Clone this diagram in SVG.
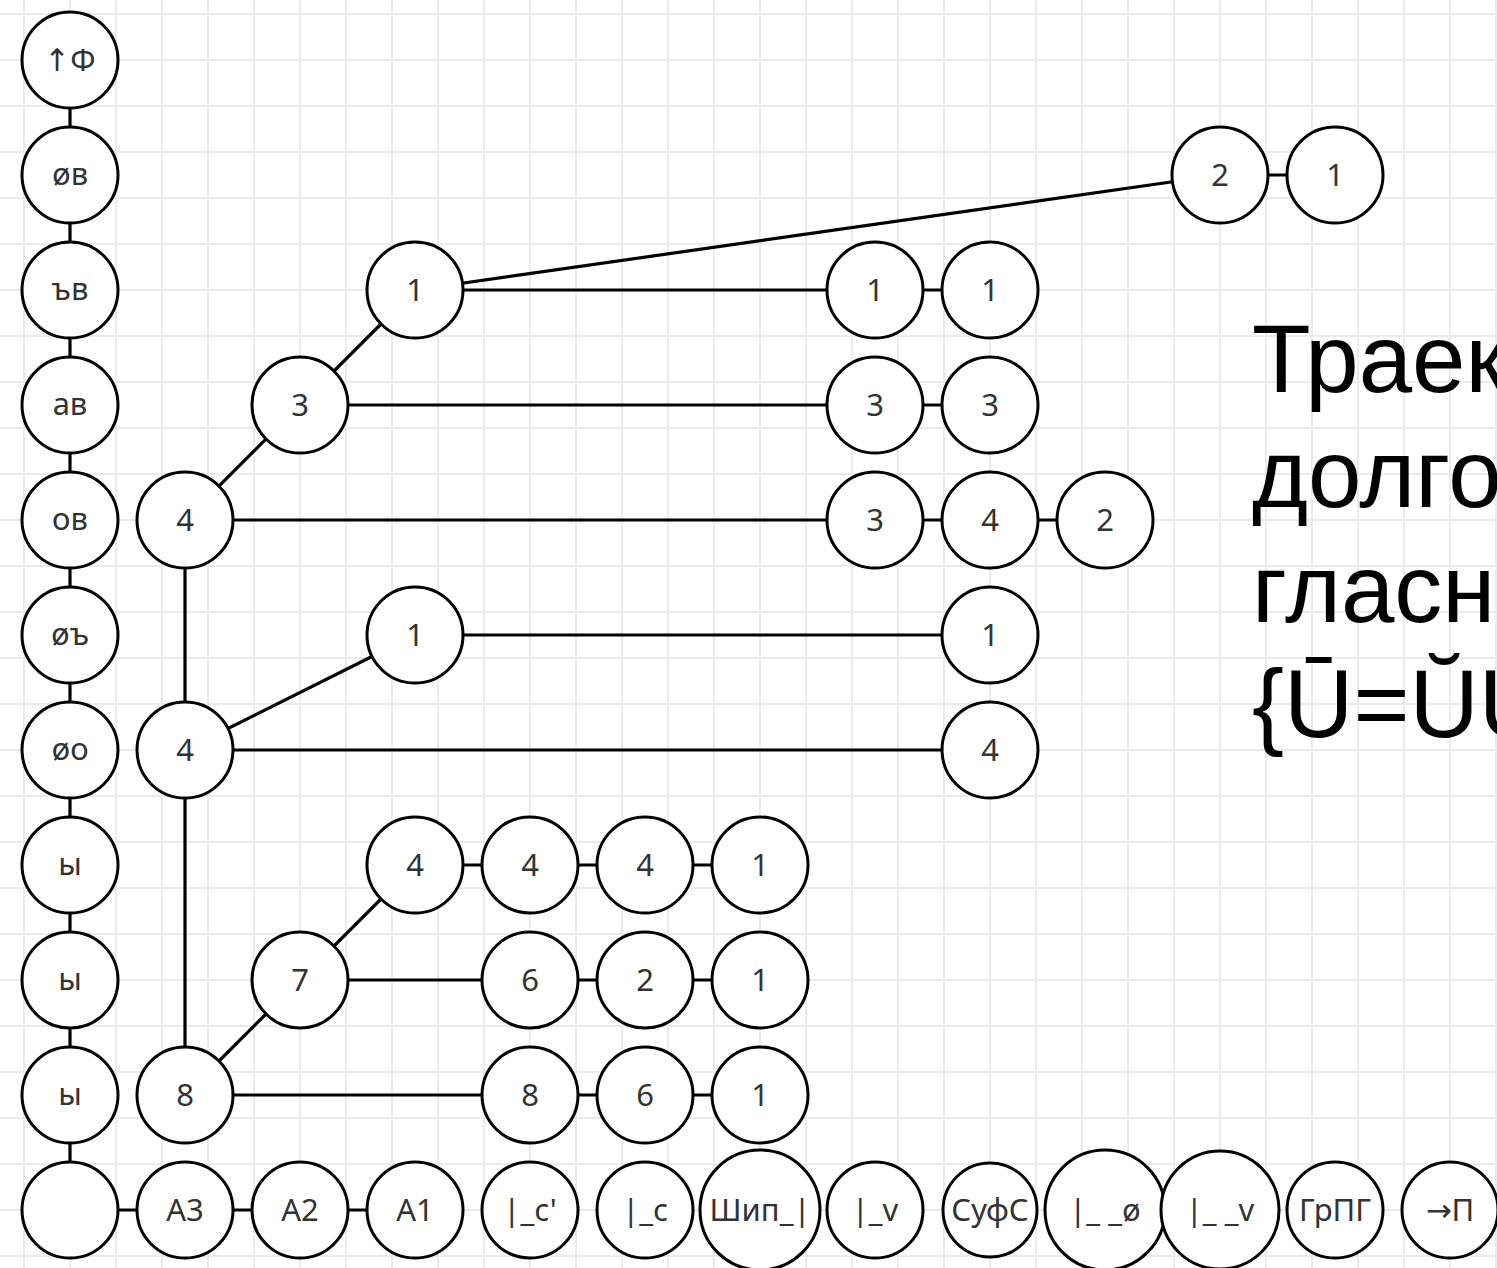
<svg xmlns="http://www.w3.org/2000/svg" width="1497" height="1268" viewBox="0 0 1497 1268">
<style>
.grid{fill:none;stroke:#ebebeb;stroke-width:2}
.n circle{fill:#fff;stroke:#000;stroke-width:3}
.n text{font-family:"Noto Sans","DejaVu Sans",sans-serif;font-size:31px;fill:#333;text-anchor:middle}
#edges line{stroke:#000;stroke-width:3.2}
.big{font-family:"Liberation Sans",Arial,sans-serif;font-size:96px;fill:#000}
</style>
<rect width="1497" height="1268" fill="#fff"/>
<path class="grid" d="M24 0V1268M70 0V1268M116 0V1268M162 0V1268M208 0V1268M254 0V1268M300 0V1268M346 0V1268M392 0V1268M438 0V1268M484 0V1268M530 0V1268M576 0V1268M622 0V1268M668 0V1268M714 0V1268M760 0V1268M806 0V1268M852 0V1268M898 0V1268M944 0V1268M990 0V1268M1036 0V1268M1082 0V1268M1128 0V1268M1174 0V1268M1220 0V1268M1266 0V1268M1312 0V1268M1358 0V1268M1404 0V1268M1450 0V1268M1496 0V1268M0 14H1497M0 60H1497M0 106H1497M0 152H1497M0 198H1497M0 244H1497M0 290H1497M0 336H1497M0 382H1497M0 428H1497M0 474H1497M0 520H1497M0 566H1497M0 612H1497M0 658H1497M0 704H1497M0 750H1497M0 796H1497M0 842H1497M0 888H1497M0 934H1497M0 980H1497M0 1026H1497M0 1072H1497M0 1118H1497M0 1164H1497M0 1210H1497M0 1256H1497"/>
<g id="edges">
<line x1="70" y1="60" x2="70" y2="1210"/>
<line x1="70" y1="1210" x2="415" y2="1210"/>
<line x1="185" y1="520" x2="185" y2="1095"/>
<line x1="185" y1="520" x2="415" y2="290"/>
<line x1="415" y1="290" x2="1220" y2="175"/>
<line x1="1220" y1="175" x2="1335" y2="175"/>
<line x1="415" y1="290" x2="990" y2="290"/>
<line x1="300" y1="405" x2="990" y2="405"/>
<line x1="185" y1="520" x2="1105" y2="520"/>
<line x1="185" y1="750" x2="415" y2="635"/>
<line x1="415" y1="635" x2="990" y2="635"/>
<line x1="185" y1="750" x2="990" y2="750"/>
<line x1="185" y1="1095" x2="415" y2="865"/>
<line x1="415" y1="865" x2="760" y2="865"/>
<line x1="300" y1="980" x2="760" y2="980"/>
<line x1="185" y1="1095" x2="760" y2="1095"/>
</g>
<g id="left">
<g id="l0" class="n"><circle cx="70" cy="60" r="48"/><text x="70" y="71">↑Ф</text></g>
<g id="l1" class="n"><circle cx="70" cy="175" r="48"/><text x="70" y="185">øв</text></g>
<g id="l2" class="n"><circle cx="70" cy="290" r="48"/><text x="70" y="300">ъв</text></g>
<g id="l3" class="n"><circle cx="70" cy="405" r="48"/><text x="70" y="415">ав</text></g>
<g id="l4" class="n"><circle cx="70" cy="520" r="48"/><text x="70" y="530">ов</text></g>
<g id="l5" class="n"><circle cx="70" cy="635" r="48"/><text x="70" y="645">øъ</text></g>
<g id="l6" class="n"><circle cx="70" cy="750" r="48"/><text x="70" y="760">øо</text></g>
<g id="l7" class="n"><circle cx="70" cy="865" r="48"/><text x="70" y="875">ы</text></g>
<g id="l8" class="n"><circle cx="70" cy="980" r="48"/><text x="70" y="990">ы</text></g>
<g id="l9" class="n"><circle cx="70" cy="1095" r="48"/><text x="70" y="1105">ы</text></g>
<g id="l10" class="n"><circle cx="70" cy="1210" r="48"/></g>
</g>
<g id="bottom">
<g id="b_a3" class="n"><circle cx="185" cy="1210" r="48"/><text x="185" y="1221">A3</text></g>
<g id="b_a2" class="n"><circle cx="300" cy="1210" r="48"/><text x="300" y="1221">A2</text></g>
<g id="b_a1" class="n"><circle cx="415" cy="1210" r="48"/><text x="415" y="1221">A1</text></g>
<g id="b_c1" class="n"><circle cx="530" cy="1210" r="48"/><text x="530" y="1221">|_c'</text></g>
<g id="b_c" class="n"><circle cx="645" cy="1210" r="48"/><text x="645" y="1221">|_c</text></g>
<g id="b_ship" class="n"><circle cx="760" cy="1210" r="60"/><text x="760" y="1221">Шип_|</text></g>
<g id="b_v" class="n"><circle cx="875" cy="1210" r="48"/><text x="875" y="1221">|_v</text></g>
<g id="b_sufs" class="n"><circle cx="990" cy="1210" r="47"/><text x="990" y="1221">СуфС</text></g>
<g id="b_o" class="n"><circle cx="1105" cy="1210" r="60"/><text x="1105" y="1221">|_ _ø</text></g>
<g id="b_vv" class="n"><circle cx="1220" cy="1210" r="59"/><text x="1220" y="1221">|_ _v</text></g>
<g id="b_grpg" class="n"><circle cx="1335" cy="1210" r="48"/><text x="1335" y="1221">ГрПГ</text></g>
<g id="b_p" class="n"><circle cx="1450" cy="1210" r="48"/><text x="1450" y="1221">→П</text></g>
</g>
<g id="tree">
<g id="t_185_520" class="n"><circle cx="185" cy="520" r="48"/><text x="185" y="531">4</text></g>
<g id="t_185_750" class="n"><circle cx="185" cy="750" r="48"/><text x="185" y="761">4</text></g>
<g id="t_185_1095" class="n"><circle cx="185" cy="1095" r="48"/><text x="185" y="1106">8</text></g>
<g id="t_300_405" class="n"><circle cx="300" cy="405" r="48"/><text x="300" y="416">3</text></g>
<g id="t_300_980" class="n"><circle cx="300" cy="980" r="48"/><text x="300" y="991">7</text></g>
<g id="t_415_290" class="n"><circle cx="415" cy="290" r="48"/><text x="415" y="301">1</text></g>
<g id="t_415_635" class="n"><circle cx="415" cy="635" r="48"/><text x="415" y="646">1</text></g>
<g id="t_415_865" class="n"><circle cx="415" cy="865" r="48"/><text x="415" y="876">4</text></g>
<g id="t_530_865" class="n"><circle cx="530" cy="865" r="48"/><text x="530" y="876">4</text></g>
<g id="t_530_980" class="n"><circle cx="530" cy="980" r="48"/><text x="530" y="991">6</text></g>
<g id="t_530_1095" class="n"><circle cx="530" cy="1095" r="48"/><text x="530" y="1106">8</text></g>
<g id="t_645_865" class="n"><circle cx="645" cy="865" r="48"/><text x="645" y="876">4</text></g>
<g id="t_645_980" class="n"><circle cx="645" cy="980" r="48"/><text x="645" y="991">2</text></g>
<g id="t_645_1095" class="n"><circle cx="645" cy="1095" r="48"/><text x="645" y="1106">6</text></g>
<g id="t_760_865" class="n"><circle cx="760" cy="865" r="48"/><text x="760" y="876">1</text></g>
<g id="t_760_980" class="n"><circle cx="760" cy="980" r="48"/><text x="760" y="991">1</text></g>
<g id="t_760_1095" class="n"><circle cx="760" cy="1095" r="48"/><text x="760" y="1106">1</text></g>
<g id="t_875_290" class="n"><circle cx="875" cy="290" r="48"/><text x="875" y="301">1</text></g>
<g id="t_875_405" class="n"><circle cx="875" cy="405" r="48"/><text x="875" y="416">3</text></g>
<g id="t_875_520" class="n"><circle cx="875" cy="520" r="48"/><text x="875" y="531">3</text></g>
<g id="t_990_290" class="n"><circle cx="990" cy="290" r="48"/><text x="990" y="301">1</text></g>
<g id="t_990_405" class="n"><circle cx="990" cy="405" r="48"/><text x="990" y="416">3</text></g>
<g id="t_990_520" class="n"><circle cx="990" cy="520" r="48"/><text x="990" y="531">4</text></g>
<g id="t_990_635" class="n"><circle cx="990" cy="635" r="48"/><text x="990" y="646">1</text></g>
<g id="t_990_750" class="n"><circle cx="990" cy="750" r="48"/><text x="990" y="761">4</text></g>
<g id="t_1105_520" class="n"><circle cx="1105" cy="520" r="48"/><text x="1105" y="531">2</text></g>
<g id="t_1220_175" class="n"><circle cx="1220" cy="175" r="48"/><text x="1220" y="186">2</text></g>
<g id="t_1335_175" class="n"><circle cx="1335" cy="175" r="48"/><text x="1335" y="186">1</text></g>
</g>
<g id="title">
<text class="big"><tspan x="1252" y="392">Траек</tspan><tspan x="1252" y="507">долго</tspan><tspan x="1252" y="622">гласн</tspan><tspan x="1252" y="737">{Ū=ŬU</tspan></text>
</g>
</svg>
